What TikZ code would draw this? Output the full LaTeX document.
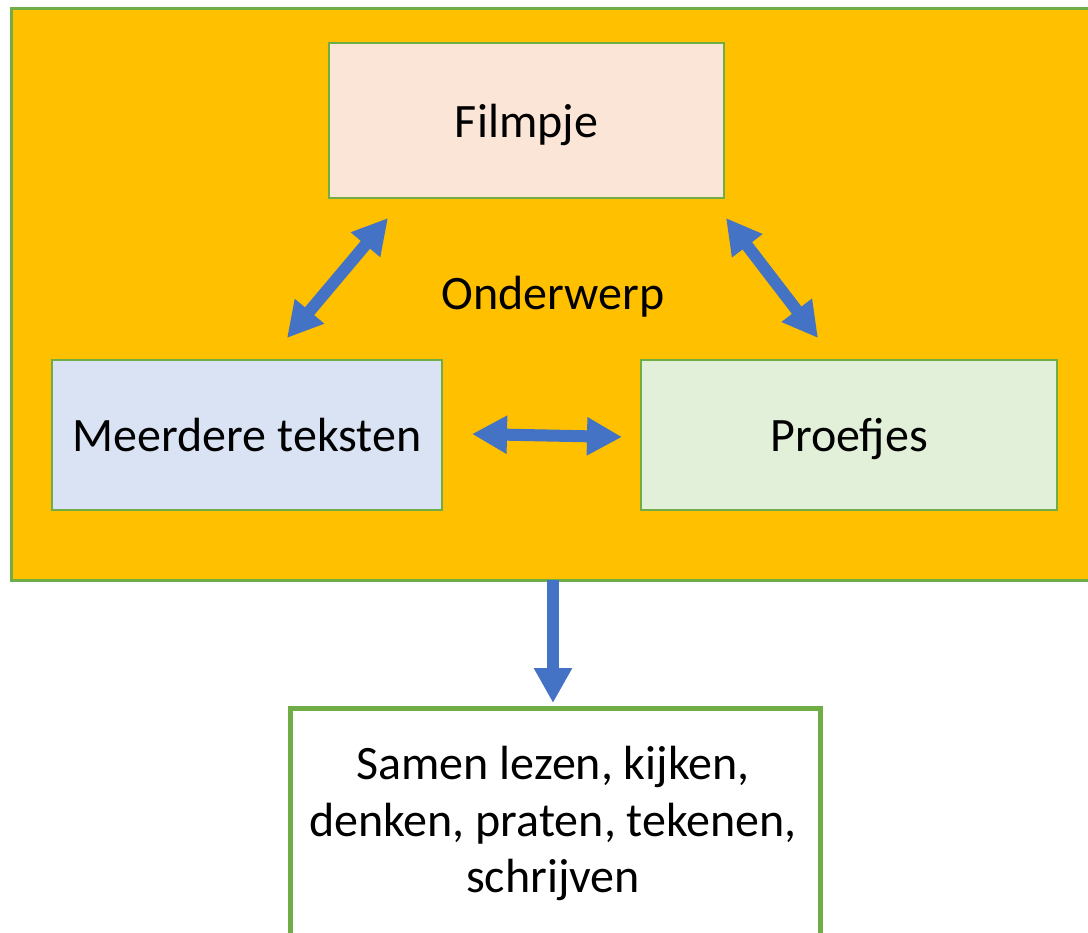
\documentclass[tikz,border=0pt]{standalone}
\usepackage{fontspec}
\setmainfont{Carlito}
\usetikzlibrary{arrows.meta}
\definecolor{gold}{HTML}{FFC000}
\definecolor{grn}{HTML}{70AD47}
\definecolor{peach}{HTML}{FBE5D6}
\definecolor{lblue}{HTML}{DAE3F3}
\definecolor{lgreen}{HTML}{E2F0D9}
\definecolor{arrowblue}{HTML}{4472C4}
\tikzset{
  txt/.style={font=\fontsize{48}{56.5}\selectfont, text=black},
  box/.style={txt, draw=grn, line width=2pt, inner sep=0pt, text height=41pt, text depth=7pt},
  blockarrow/.style={draw=arrowblue, line width=12pt, {Triangle[width=36pt,length=35pt]}-{Triangle[width=36pt,length=35pt]}},
  singlearrow/.style={draw=arrowblue, line width=12pt, -{Triangle[width=36pt,length=35pt]}}
}
\begin{document}
\begin{tikzpicture}[x=1pt,y=-1pt]
\useasboundingbox (0,0) rectangle (1088,933);
\fill[white] (0,0) rectangle (1088,933);
% big orange frame
\node[draw=grn, fill=gold, line width=3pt, inner sep=0pt, minimum width=1100pt, minimum height=571.5pt, anchor=north west] (frame) at (9.5,7.5) {};
% boxes
\node[box, fill=peach, minimum width=395pt, minimum height=155pt] (film) at (526.5,120.5) {Filmpje};
\node[box, fill=lblue, minimum width=390pt, minimum height=150pt] (meer) at (247,435) {Meerdere teksten};
\node[box, fill=lgreen, minimum width=416pt, minimum height=150pt] (proef) at (849,435) {Proefjes};
\node[txt, anchor=base, inner sep=0pt] (onder) at (553,310) {Onderwerp};
\node[draw=grn, fill=white, line width=5pt, inner sep=0pt, minimum width=530pt, minimum height=250pt, anchor=north west] (bottom) at (287.5,705.5) {};
\node[txt, align=center, anchor=north] (btext) at (553,743) {Samen lezen, kijken,\\denken, praten, tekenen,\\schrijven};
% arrow end points
\coordinate (a1) at (388,218);
\coordinate (a2) at (287,338);
\coordinate (b1) at (726,218);
\coordinate (b2) at (818,338);
\coordinate (c1) at (472,434);
\coordinate (c2) at (622,437);
\coordinate (d1) at (553,580);
\coordinate (d2) at (553,703);
\draw[blockarrow] (a1) -- (a2);
\draw[blockarrow] (b1) -- (b2);
\draw[blockarrow] (c1) -- (c2);
\draw[singlearrow] (d1) -- (d2);
\end{tikzpicture}
\end{document}
